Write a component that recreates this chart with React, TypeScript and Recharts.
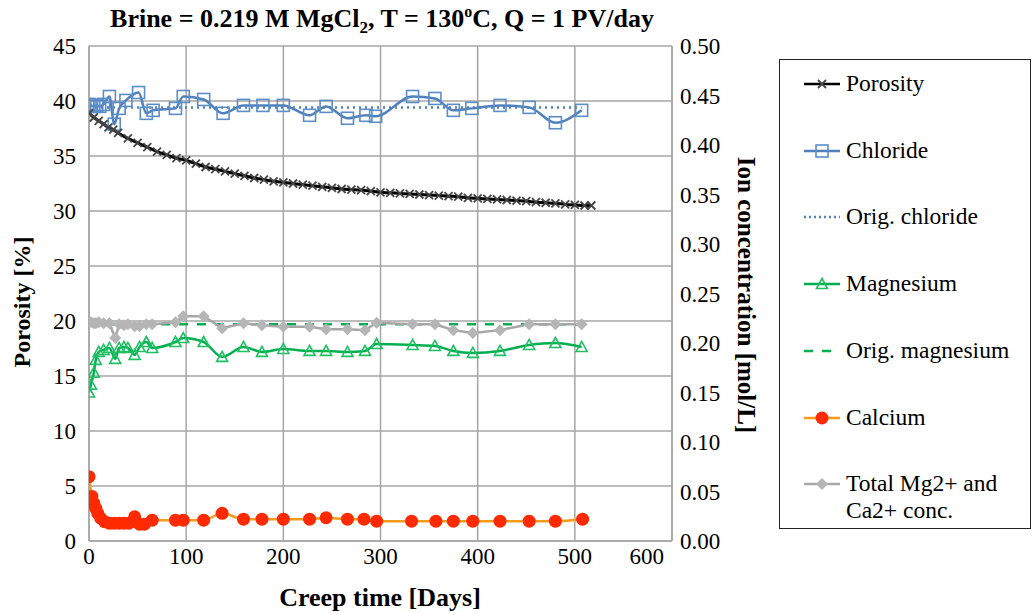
import React from 'react';
import { ComposedChart, Line, XAxis, YAxis, CartesianGrid } from 'recharts';

const FONT = "'Liberation Serif', 'DejaVu Serif', serif";

// Porosity [%] vs creep time
const porosityDays = [0, 5, 10, 15, 20, 25, 30, 40, 50, 60, 70, 80, 90, 100, 110, 120, 130, 140, 150, 160, 170, 180, 190, 200, 210, 220, 230, 240, 250, 260, 270, 280, 290, 300, 310, 320, 330, 340, 350, 360, 370, 380, 390, 400, 410, 420, 430, 440, 450, 460, 470, 480, 490, 500, 510, 517];
const porosityValues = [38.9, 38.5, 38.2, 37.9, 37.6, 37.4, 37.1, 36.6, 36.2, 35.8, 35.4, 35.1, 34.8, 34.6, 34.3, 34.0, 33.8, 33.6, 33.4, 33.2, 33.0, 32.85, 32.7, 32.6, 32.5, 32.4, 32.3, 32.2, 32.1, 32.0, 31.95, 31.9, 31.8, 31.7, 31.65, 31.6, 31.55, 31.5, 31.45, 31.4, 31.35, 31.3, 31.2, 31.15, 31.1, 31.05, 31.0, 30.95, 30.9, 30.8, 30.75, 30.7, 30.6, 30.55, 30.5, 30.5];

// Ion concentrations [mol/L]
const chlorideDays = [0, 2, 5, 8, 11, 15, 21, 26, 31, 38, 51, 59, 66, 89, 97, 118, 138, 159, 179, 200, 227, 244, 266, 285, 295, 333, 356, 375, 394, 423, 453, 480, 507];
const chlorideValues = [0.441, 0.44, 0.439, 0.44, 0.439, 0.441, 0.449, 0.421, 0.437, 0.445, 0.453, 0.432, 0.435, 0.437, 0.449, 0.446, 0.432, 0.44, 0.44, 0.44, 0.43, 0.439, 0.427, 0.43, 0.429, 0.449, 0.447, 0.435, 0.437, 0.44, 0.438, 0.4225, 0.435];

const magnesiumDays = [0, 2, 5, 7, 10, 15, 21, 27, 31, 36, 40, 47, 52, 59, 65, 89, 97, 118, 137, 159, 178, 200, 227, 244, 266, 284, 296, 333, 356, 375, 395, 423, 453, 480, 507];
const magnesiumValues = [0.15, 0.158, 0.17, 0.183, 0.191, 0.193, 0.195, 0.184, 0.195, 0.196, 0.195, 0.188, 0.196, 0.201, 0.195, 0.201, 0.205, 0.201, 0.186, 0.196, 0.191, 0.194, 0.192, 0.192, 0.191, 0.192, 0.199, 0.198, 0.197, 0.192, 0.19, 0.192, 0.198, 0.2, 0.196];
const totalValues = [0.221, 0.221, 0.22, 0.22, 0.221, 0.22, 0.22, 0.205, 0.219, 0.218, 0.219, 0.217, 0.217, 0.219, 0.219, 0.221, 0.227, 0.227, 0.215, 0.22, 0.218, 0.2165, 0.2165, 0.214, 0.214, 0.213, 0.2205, 0.219, 0.219, 0.213, 0.21, 0.213, 0.219, 0.219, 0.219];

const calciumDays = [0, 3, 5, 7, 9, 12, 16, 21, 26, 31, 36, 41, 47, 52, 57, 65, 89, 97, 118, 137, 159, 178, 200, 227, 244, 266, 283, 296, 332, 357, 375, 395, 423, 453, 480, 508];
const calciumValues = [0.065, 0.045, 0.038, 0.033, 0.028, 0.023, 0.0195, 0.018, 0.018, 0.018, 0.018, 0.018, 0.0245, 0.017, 0.017, 0.021, 0.021, 0.021, 0.021, 0.028, 0.022, 0.022, 0.022, 0.022, 0.0235, 0.022, 0.022, 0.02, 0.02, 0.02, 0.02, 0.02, 0.02, 0.02, 0.02, 0.022];

const origDays = [0, 507];
const origChloride = [0.438, 0.438];
const origMagnesium = [0.219, 0.219];

const xTicks = [0, 100, 200, 300, 400, 500, 600];
const leftTicks = [0, 5, 10, 15, 20, 25, 30, 35, 40, 45];
const rightTicks = [0, 0.05, 0.1, 0.15, 0.2, 0.25, 0.3, 0.35, 0.4, 0.45, 0.5];

const zip = (days: number[], vals: number[]) => days.map((day, i) => ({ day, v: vals[i] }));

const C = {
  porosity: '#000000',
  chloride: '#4f81bd',
  magnesium: '#00b050',
  calcium: '#f59a1b',
  calciumDot: '#ff2a00',
  total: '#a6a6a6',
  grid: '#a6a6a6',
};

// markers
const Cross = ({ cx, cy }: any) => (
  <path d={`M${cx - 4},${cy - 4}L${cx + 4},${cy + 4}M${cx - 4},${cy + 4}L${cx + 4},${cy - 4}`} stroke="#444" strokeWidth={1.8} fill="none" />
);
const Square = ({ cx, cy }: any) => (
  <rect x={cx - 6} y={cy - 6} width={12} height={12} fill="none" stroke="#5b8ec9" strokeWidth={1.6} />
);
const Triangle = ({ cx, cy }: any) => (
  <polygon points={`${cx},${cy - 5.5} ${cx + 5.5},${cy + 4.5} ${cx - 5.5},${cy + 4.5}`} fill="none" stroke="#1fbf63" strokeWidth={1.6} />
);
const Dot = ({ cx, cy }: any) => <circle cx={cx} cy={cy} r={6.5} fill={C.calciumDot} />;
const Diamond = ({ cx, cy }: any) => (
  <polygon points={`${cx},${cy - 6} ${cx + 6},${cy} ${cx},${cy + 6} ${cx - 6},${cy}`} fill="#b5b5b5" />
);

const dotWith = (M: any, tag: string) => (p: any) => <M key={`${tag}${p.index}`} cx={p.cx} cy={p.cy} />;

// last x label sits left of the right axis, as in the original
const XTick = ({ x, y, payload }: any) => {
  const last = payload.value === 600;
  return (
    <text x={last ? x - 8 : x} y={y} dy="0.75em" textAnchor={last ? 'end' : 'middle'} style={{ fontFamily: FONT, fontSize: 23 }} fill="#000">
      {payload.value}
    </text>
  );
};

const YTick = ({ x, y, payload, textAnchor, fmt }: any) => (
  <text x={x} y={y} dy="0.35em" textAnchor={textAnchor} style={{ fontFamily: FONT, fontSize: 23 }} fill="#000">
    {fmt ? fmt(payload.value) : payload.value}
  </text>
);

const legendItems = [
  { name: 'Porosity', color: C.porosity, dash: undefined, Marker: Cross },
  { name: 'Chloride', color: C.chloride, dash: undefined, Marker: Square },
  { name: 'Orig. chloride', color: C.chloride, dash: '2 3', Marker: null },
  { name: 'Magnesium', color: C.magnesium, dash: undefined, Marker: Triangle },
  { name: 'Orig. magnesium', color: C.magnesium, dash: '9 9', Marker: null },
  { name: 'Calcium', color: C.calcium, dash: undefined, Marker: Dot },
  { name: 'Total Mg2+ and\nCa2+ conc.', color: C.total, dash: undefined, Marker: Diamond },
];

function LegendBox() {
  return (
    <div
      style={{
        position: 'absolute', left: 779, top: 59, width: 250, height: 468,
        border: '1px solid #222', fontFamily: FONT, fontSize: 23.5, color: '#000',
      }}
    >
      {legendItems.map((it, i) => (
        <div key={it.name} style={{ position: 'absolute', left: 22, top: 10 + i * 66.7, display: 'flex', alignItems: 'flex-start' }}>
          <svg width={40} height={28} style={{ flex: 'none' }}>
            <line x1={2} y1={14} x2={38} y2={14} stroke={it.color} strokeWidth={2.5} strokeDasharray={it.dash} />
            {it.Marker ? <it.Marker cx={20} cy={14} /> : null}
          </svg>
          <div style={{ marginLeft: 4, whiteSpace: 'pre', lineHeight: '27px' }}>{it.name}</div>
        </div>
      ))}
    </div>
  );
}

export default function App() {
  return (
    <div style={{ position: 'absolute', left: 0, top: 0, width: 1033, height: 613, background: '#fff', fontFamily: FONT }}>
      <div style={{ position: 'absolute', left: 0, width: 764, top: 3, textAlign: 'center', fontWeight: 'bold', fontSize: 26 }}>
        Brine = 0.219 M MgCl<sub style={{ fontSize: 17 }}>2</sub>, T = 130<sup style={{ fontSize: 16 }}>o</sup>C, Q = 1 PV/day
      </div>
      <ComposedChart
        width={1033}
        height={613}
        margin={{ top: 46, right: 271, bottom: 32, left: 0 }}
        style={{ position: 'absolute', left: 0, top: 0 }}
      >
        <CartesianGrid stroke={C.grid} strokeWidth={1.5} yAxisId="left" horizontalValues={leftTicks} verticalValues={xTicks} />
        <XAxis
          type="number" dataKey="day" domain={[0, 600]} ticks={xTicks} allowDataOverflow
          tick={<XTick />} tickLine={false} tickSize={0} tickMargin={6} height={40}
          axisLine={{ stroke: C.grid, strokeWidth: 1.5 }}
        />
        <YAxis
          yAxisId="left" domain={[0, 45]} ticks={leftTicks} tick={<YTick />} tickLine={false} tickSize={0}
          tickMargin={13} width={89} axisLine={{ stroke: C.grid, strokeWidth: 1.5 }}
        />
        <YAxis
          yAxisId="right" orientation="right" domain={[0, 0.5]} ticks={rightTicks}
          tick={<YTick fmt={(v: number) => v.toFixed(2)} />} tickLine={false} tickSize={0} tickMargin={8} width={90}
          axisLine={{ stroke: C.grid, strokeWidth: 1.5 }}
        />

        <Line yAxisId="right" data={zip(origDays, origMagnesium)} dataKey="v" stroke={C.magnesium} strokeWidth={2.5} strokeDasharray="9 9" dot={false} isAnimationActive={false} />
        <Line yAxisId="right" data={zip(origDays, origChloride)} dataKey="v" stroke={C.chloride} strokeWidth={2.5} strokeDasharray="2 4" dot={false} isAnimationActive={false} />
        <Line yAxisId="right" data={zip(magnesiumDays, totalValues)} dataKey="v" type="linear" stroke={C.total} strokeWidth={2.5} dot={dotWith(Diamond, 't')} isAnimationActive={false} />
        <Line yAxisId="right" data={zip(magnesiumDays, magnesiumValues)} dataKey="v" type="monotone" stroke={C.magnesium} strokeWidth={2.5} dot={dotWith(Triangle, 'm')} isAnimationActive={false} />
        <Line yAxisId="right" data={zip(calciumDays, calciumValues)} dataKey="v" type="monotone" stroke={C.calcium} strokeWidth={2.5} dot={dotWith(Dot, 'c')} isAnimationActive={false} />
        <Line yAxisId="right" data={zip(chlorideDays, chlorideValues)} dataKey="v" type="monotone" stroke={C.chloride} strokeWidth={2.5} dot={dotWith(Square, 's')} isAnimationActive={false} />
        <Line yAxisId="left" data={zip(porosityDays, porosityValues)} dataKey="v" type="monotone" stroke={C.porosity} strokeWidth={3} dot={dotWith(Cross, 'p')} isAnimationActive={false} />
      </ComposedChart>

      <div style={{ position: 'absolute', left: 22, top: 302, transform: 'translate(-50%, -50%) rotate(-90deg)', whiteSpace: 'nowrap', fontWeight: 'bold', fontSize: 24 }}>
        Porosity [%]
      </div>
      <div style={{ position: 'absolute', left: 746, top: 295, transform: 'translate(-50%, -50%) rotate(90deg)', whiteSpace: 'nowrap', fontWeight: 'bold', fontSize: 25 }}>
        Ion concentration [mol/L]
      </div>
      <div style={{ position: 'absolute', left: 380, top: 598, transform: 'translate(-50%, -50%)', whiteSpace: 'nowrap', fontWeight: 'bold', fontSize: 26 }}>
        Creep time [Days]
      </div>
      <LegendBox />
    </div>
  );
}
